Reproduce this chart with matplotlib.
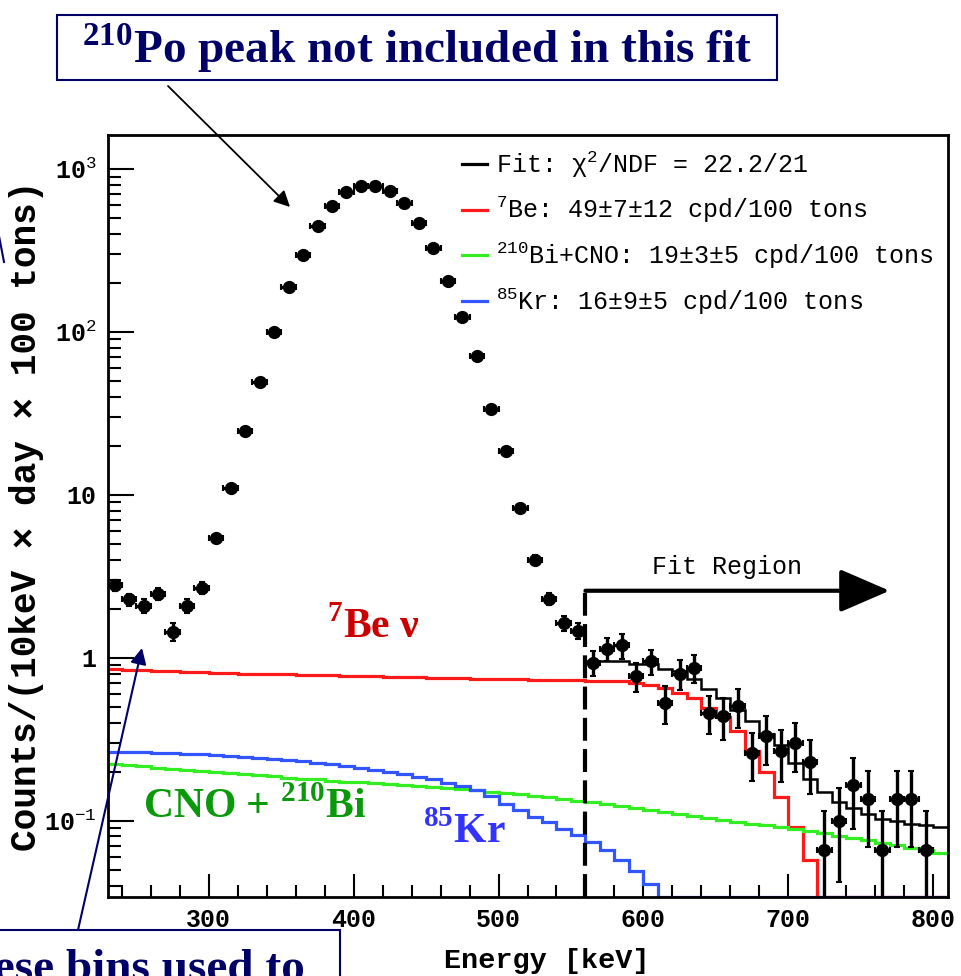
import numpy as np
import matplotlib
matplotlib.use('Agg')
import matplotlib.pyplot as plt
from matplotlib.ticker import FixedLocator, FixedFormatter, LogLocator, NullFormatter, MultipleLocator
from matplotlib.lines import Line2D
from matplotlib.patches import Rectangle
from matplotlib.font_manager import FontProperties

# mathtext: rm -> mono (legend superscripts), it -> bold mono (tick labels),
# bf -> bold serif (big call-outs)
plt.rcParams['mathtext.fontset'] = 'custom'
plt.rcParams['mathtext.rm'] = 'Liberation Mono'
plt.rcParams['mathtext.it'] = 'Liberation Mono:bold'
plt.rcParams['mathtext.bf'] = 'Liberation Serif:bold'
plt.rcParams['mathtext.default'] = 'rm'

MONO = ['Liberation Mono', 'DejaVu Sans Mono']
SERIF = ['Liberation Serif', 'DejaVu Serif']
NAVY = '#000066'

# ---- data (10 keV bins) ----
edges = np.arange(230, 820, 10)          # 230 ... 810
energy = np.arange(235, 800, 10)         # bin centres of the data points
counts = [2.78, 2.28, 2.09, 2.48, 1.45, 2.09, 2.70, 5.4, 11.0, 24.8,
          49, 100, 189, 299, 445, 590, 720, 785, 785, 731,
          617, 464, 330, 206, 124, 71, 33.5, 18.7, 8.3, 4.0,
          2.31, 1.64, 1.47, 0.935, 1.14, 1.19, 0.774, 0.95, 0.53, 0.80,
          0.87, 0.46, 0.44, 0.505, 0.26, 0.33, 0.267, 0.30, 0.23, 0.066,
          0.10, 0.166, 0.135, 0.066, 0.135, 0.135, 0.066]
errors = [0.22, 0.20, 0.20, 0.21, 0.18, 0.20, 0.22, 0.30, 0.45, 0.65,
          0.9, 1.3, 1.8, 2.2, 2.7, 3.1, 3.4, 3.5, 3.5, 3.4,
          3.1, 2.7, 2.3, 1.8, 1.4, 1.1, 0.75, 0.55, 0.38, 0.26,
          0.20, 0.17, 0.16, 0.16, 0.18, 0.21, 0.16, 0.17, 0.14, 0.17,
          0.17, 0.12, 0.125, 0.135, 0.085, 0.11, 0.095, 0.10, 0.085, 0.048,
          0.058, 0.077, 0.066, 0.048, 0.066, 0.066, 0.048]

be7 = [0.85, 0.84, 0.84, 0.83, 0.83, 0.82, 0.82, 0.81, 0.81, 0.80,
       0.80, 0.79, 0.79, 0.78, 0.78, 0.78, 0.77, 0.77, 0.77, 0.76,
       0.76, 0.76, 0.75, 0.75, 0.75, 0.74, 0.74, 0.74, 0.74, 0.73,
       0.73, 0.73, 0.73, 0.72, 0.72, 0.72, 0.70, 0.68, 0.655, 0.61,
       0.566, 0.49, 0.43, 0.354, 0.267, 0.20, 0.14, 0.092, 0.057, 0,
       0, 0, 0, 0, 0, 0, 0, 0]
bi_cno = [0.222, 0.219, 0.216, 0.212, 0.209, 0.206, 0.202, 0.199, 0.196, 0.193,
          0.190, 0.187, 0.184, 0.181, 0.179, 0.176, 0.174, 0.172, 0.170, 0.168,
          0.166, 0.163, 0.161, 0.159, 0.157, 0.154, 0.151, 0.148, 0.145, 0.142,
          0.139, 0.136, 0.133, 0.130, 0.127, 0.123, 0.120, 0.116, 0.113, 0.110,
          0.107, 0.104, 0.101, 0.098, 0.096, 0.094, 0.092, 0.089, 0.087, 0.084,
          0.081, 0.078, 0.076, 0.073, 0.071, 0.068, 0.066, 0.063]
kr85 = [0.265, 0.264, 0.263, 0.261, 0.259, 0.257, 0.255, 0.253, 0.250, 0.247,
        0.244, 0.240, 0.236, 0.232, 0.227, 0.222, 0.217, 0.212, 0.206, 0.200,
        0.193, 0.186, 0.179, 0.171, 0.163, 0.155, 0.141, 0.127, 0.117, 0.106,
        0.0986, 0.089, 0.082, 0.074, 0.066, 0.057, 0.049, 0.041, 0, 0,
        0, 0, 0, 0, 0, 0, 0, 0, 0, 0,
        0, 0, 0, 0, 0, 0, 0, 0]
fit_edges = np.arange(560, 820, 10)
fit_total = [0.96, 0.96, 0.96, 0.92, 0.92, 0.855, 0.83, 0.74, 0.645, 0.57,
             0.48, 0.41, 0.34, 0.29, 0.225, 0.18, 0.15, 0.131, 0.119, 0.11,
             0.103, 0.099, 0.096, 0.094, 0.092]

legend_labels = ['Fit: χ$^{2}$/NDF = 22.2/21',
                 '$^{7}$Be: 49±7±12 cpd/100 tons',
                 '$^{210}$Bi+CNO: 19±3±5 cpd/100 tons',
                 '$^{85}$Kr: 16±9±5 cpd/100 tons']
ytick_labels = [r'10$^{\mathit{-1}}$', '1', '10', r'10$^{\mathit{2}}$', r'10$^{\mathit{3}}$']

YMIN, YMAX = 0.034, 1620
fit_start = 560
fit_arrow_end = 770
fit_arrow_y = 2.58

W, H = 962, 976
fig = plt.figure(figsize=(W / 100, H / 100), dpi=100)
ax = fig.add_axes([107.5 / W, 1 - 897 / H, 840 / W, 762 / H])

def fx(x):
    return x / W

def fy(y):
    return 1 - y / H

# components (zero bins sit on the bottom of the frame, like ROOT)
ax.stairs(np.maximum(be7, YMIN), edges, baseline=None, color='#ff1a1a', lw=2.3, zorder=2)
ax.stairs(np.maximum(bi_cno, YMIN), edges, baseline=None, color='#33ee22', lw=2.3, zorder=2)
ax.stairs(np.maximum(kr85, YMIN), edges, baseline=None, color='#3355ff', lw=2.3, zorder=2)
ax.stairs(fit_total, fit_edges, baseline=None, color='black', lw=1.8, zorder=2)

ax.errorbar(energy, counts, yerr=errors, xerr=5, fmt='o', color='black', ms=8.5,
            elinewidth=2.4, capsize=2, capthick=1.5, zorder=4)

# fit region marker
ax.plot([fit_start, fit_start], [YMIN, fit_arrow_y], color='black', lw=3,
        linestyle=(0, (5.5, 2)), zorder=5, clip_on=False)
ax.annotate('', xy=(fit_arrow_end, fit_arrow_y), xytext=(fit_start, fit_arrow_y),
            arrowprops=dict(arrowstyle='-|>,head_length=1.55,head_width=0.67',
                            lw=3, color='black', shrinkA=0, shrinkB=0,
                            mutation_scale=20), zorder=5)
fig.text(fx(727), fy(567), 'Fit Region', family=MONO, fontsize=18,
         ha='center', va='center')

ax.set_xlim(230, 810)
ax.set_yscale('log')
ax.set_ylim(YMIN, YMAX)

ax.xaxis.set_major_locator(FixedLocator([300, 400, 500, 600, 700, 800]))
ax.xaxis.set_minor_locator(MultipleLocator(20))
ax.yaxis.set_major_locator(FixedLocator([0.1, 1, 10, 100, 1000]))
ax.yaxis.set_major_formatter(FixedFormatter(ytick_labels))
ax.yaxis.set_minor_locator(LogLocator(base=10, subs=np.arange(2, 10)))
ax.yaxis.set_minor_formatter(NullFormatter())

ax.tick_params(axis='x', which='major', direction='in', length=16.5, width=1.5, pad=8)
ax.tick_params(axis='x', which='minor', direction='in', length=8.5, width=1.5)
ax.tick_params(axis='y', which='major', direction='in', length=18.5, width=1.5, pad=8)
ax.tick_params(axis='y', which='minor', direction='in', length=9.5, width=1.5)
for lab in ax.get_xticklabels() + ax.get_yticklabels():
    lab.set_fontfamily(MONO)
    lab.set_fontweight('bold')
    lab.set_fontsize(18)
for sp in ax.spines.values():
    sp.set_linewidth(2)

fig.text(fx(27), fy(516), 'Counts/(10keV × day × 100 tons)', rotation=90,
         family=MONO, fontweight='bold', fontsize=26, ha='center', va='center')
fig.text(fx(547), fy(961), 'Energy [keV]', family=MONO, fontweight='bold',
         fontsize=20.5, ha='center', va='center')

# legend
handles = [Line2D([], [], color=c, lw=2.3) for c in ['black', '#ff1a1a', '#33ee22', '#3355ff']]
ax.legend(handles, legend_labels, loc='upper left', bbox_to_anchor=(fx(462), fy(149)),
          bbox_transform=fig.transFigure, frameon=False,
          prop=FontProperties(family=MONO, size=18), handlelength=1.0,
          handletextpad=0.35, labelspacing=0.6, borderpad=0, borderaxespad=0)

# component labels
fig.text(fx(327), fy(638), r'$^{\mathbf{7}}$Be ν', family=SERIF, fontweight='bold',
         fontsize=30, color='#cc0000', va='baseline')
fig.text(fx(143), fy(818), r'CNO + $^{\mathbf{210}}$Bi', family=SERIF, fontweight='bold',
         fontsize=30, color='#0a990a', va='baseline')
fig.text(fx(423), fy(843), r'$^{\mathbf{85}}$Kr', family=SERIF, fontweight='bold',
         fontsize=30, color='#3333ff', va='baseline')

# top call-out
fig.add_artist(Rectangle((fx(57), fy(80)), (777 - 57) / W, 65 / H, transform=fig.transFigure,
                         facecolor='white', edgecolor=NAVY, lw=1.5))
fig.text(fx(417), fy(63), r'$^{\mathbf{210}}$Po peak not included in this fit', family=SERIF,
         fontweight='bold', fontsize=34, color=NAVY, ha='center', va='baseline')
ax.annotate('', xy=(290, H - 207), xycoords='figure pixels',
            xytext=(168, H - 86), textcoords='figure pixels',
            arrowprops=dict(arrowstyle='-|>', color='black', lw=1.3,
                            mutation_scale=24, shrinkA=0, shrinkB=0))

# bottom call-out (cut by the image edge)
fig.add_artist(Rectangle((fx(-10), fy(1000)), 350 / W, 70 / H, transform=fig.transFigure,
                         facecolor='white', edgecolor=NAVY, lw=1.5))
fig.text(fx(305), fy(981), 'These bins used to', family=SERIF, fontweight='bold',
         fontsize=34, color=NAVY, ha='right', va='baseline')
ax.annotate('', xy=(142, H - 648), xycoords='figure pixels',
            xytext=(78, H - 930), textcoords='figure pixels',
            arrowprops=dict(arrowstyle='-|>', color=NAVY, lw=1.5,
                            mutation_scale=24, shrinkA=0, shrinkB=0))
fig.add_artist(Line2D([fx(-1), fx(4)], [fy(236), fy(262)], transform=fig.transFigure,
                      color=NAVY, lw=1.5))

fig.savefig('out.png', dpi=100)
